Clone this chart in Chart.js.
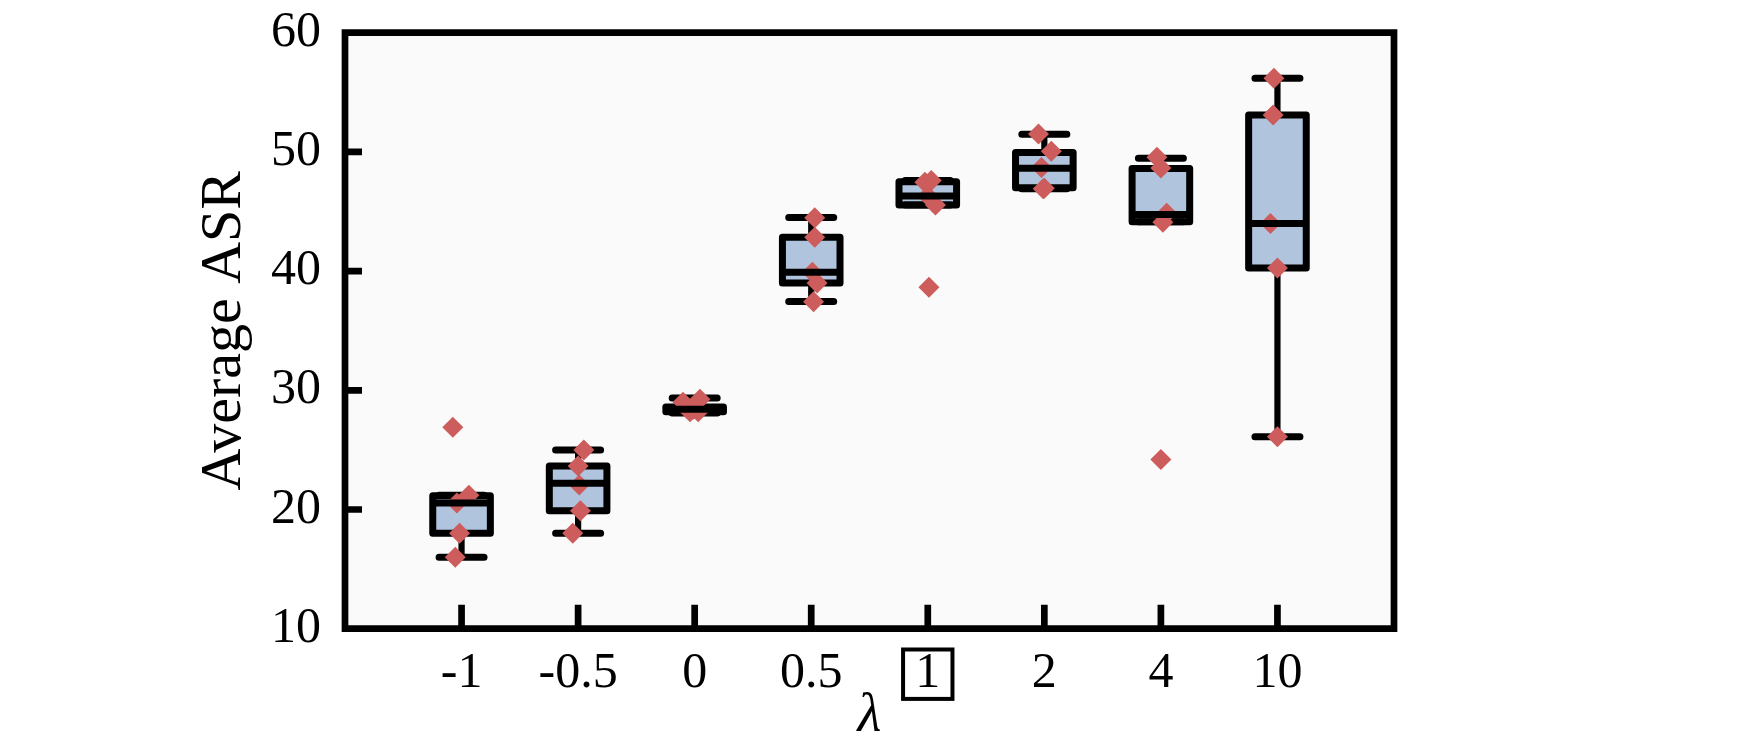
<!DOCTYPE html>
<html>
<head>
<meta charset="utf-8">
<script src="https://cdn.jsdelivr.net/npm/chart.js@4.4.1/dist/chart.umd.min.js"></script>
<style>
  html, body { margin: 0; padding: 0; background: #ffffff; }
  #wrap { width: 1740px; height: 741px; }
</style>
</head>
<body>
<div id="wrap"><canvas id="c" width="1740" height="741"></canvas></div>
<script>
// ---------------- data ----------------
const categories = ['-1', '-0.5', '0', '0.5', '1', '2', '4', '10'];
const boxedCategory = '1';
const yTicks = [10, 20, 30, 40, 50, 60];

const q1      = [18.0, 19.9, 28.2, 39.0, 45.55, 47.0, 44.15, 40.25];
const medians = [20.55, 22.2, 28.4, 39.9, 46.3, 48.62, 44.75, 44.0];
const q3      = [21.15, 23.65, 28.6, 42.83, 47.5, 49.95, 48.6, 53.1];
const whiskerLow  = [16.0, 18.0, 28.1, 37.45, 45.55, 46.9, 44.15, 26.1];
const whiskerHigh = [21.2, 25.0, 29.35, 44.5, 47.6, 51.48, 49.46, 56.17];

// individual runs (red diamonds) and their horizontal jitter in category units
const pointValues = [
  [26.9, 21.2, 20.55, 18.0, 16.0],
  [25.0, 23.65, 22.05, 19.9, 18.0],
  [29.25, 29.0, 28.4, 28.2, 28.2],
  [44.48, 42.83, 39.9, 39.0, 37.43],
  [47.6, 47.45, 46.3, 45.55, 38.64],
  [51.5, 50.05, 48.7, 46.95, 46.9],
  [49.55, 48.65, 44.85, 44.1, 24.2],
  [56.17, 53.1, 44.0, 40.25, 26.1]
];
const pointJitter = [
  [-0.075, 0.063, -0.04, -0.017, -0.054],
  [0.049, 0.0, 0.01, 0.02, -0.046],
  [0.045, -0.1, -0.01, -0.04, 0.03],
  [0.03, 0.03, 0.01, 0.05, 0.02],
  [0.03, -0.025, 0.0, 0.066, 0.01],
  [-0.05, 0.06, -0.025, 0.0, -0.01],
  [-0.034, 0.0, 0.05, 0.017, 0.0],
  [-0.03, -0.037, -0.06, 0.0, 0.0]
];

// ---------------- build datasets from the arrays ----------------
const boxData = categories.map((c, i) => ({ x: i, y: [q1[i], q3[i]] }));
const pointData = [];
pointValues.forEach((arr, i) => arr.forEach((v, k) => pointData.push({ x: i + pointJitter[i][k], y: v })));

// ---------------- styling constants ----------------
const SERIF = 'Liberation Serif';
const LW = 7;              // box / cap / median line width
const FRAME_LW = 6.7;
const WHISKER_LW = 6.2;
const BOX_HALF = 28.8;     // half width of box (line centres)
const CAP_HALF = 26;       // half width of caps (outer)
const Y_TICK_LEN = 17;
const X_TICK_LEN = 24;

const boxPlugin = {
  id: 'boxParts',
  beforeDraw(chart) {
    const { ctx, chartArea: a } = chart;
    ctx.save();
    ctx.fillStyle = '#fafafa';
    ctx.fillRect(a.left, a.top, a.right - a.left, a.bottom - a.top);
    ctx.restore();
  },
  afterDatasetDraw(chart, args) {
    if (args.index !== 0) return;
    const { ctx } = chart;
    const xs = chart.scales.x, ys = chart.scales.y;
    ctx.save();
    ctx.strokeStyle = '#000';
    categories.forEach((c, i) => {
      const cx = xs.getPixelForValue(i);
      const yQ1 = ys.getPixelForValue(q1[i]);
      const yQ3 = ys.getPixelForValue(q3[i]);
      const yLo = ys.getPixelForValue(whiskerLow[i]);
      const yHi = ys.getPixelForValue(whiskerHigh[i]);
      // whiskers
      ctx.lineWidth = WHISKER_LW;
      ctx.lineCap = 'butt';
      ctx.beginPath();
      ctx.moveTo(cx, yQ3); ctx.lineTo(cx, yHi);
      ctx.moveTo(cx, yQ1); ctx.lineTo(cx, yLo);
      ctx.stroke();
      // caps
      ctx.lineWidth = LW;
      ctx.lineCap = 'round';
      ctx.beginPath();
      ctx.moveTo(cx - CAP_HALF + LW / 2, yHi); ctx.lineTo(cx + CAP_HALF - LW / 2, yHi);
      ctx.moveTo(cx - CAP_HALF + LW / 2, yLo); ctx.lineTo(cx + CAP_HALF - LW / 2, yLo);
      ctx.stroke();
      // box outline
      ctx.lineJoin = 'round';
      ctx.lineCap = 'butt';
      ctx.beginPath();
      ctx.rect(cx - BOX_HALF, yQ3, BOX_HALF * 2, yQ1 - yQ3);
      ctx.stroke();
    });
    ctx.restore();
  },
  afterDatasetsDraw(chart) {
    const { ctx, chartArea: a } = chart;
    const xs = chart.scales.x, ys = chart.scales.y;
    ctx.save();
    ctx.strokeStyle = '#000';
    // medians
    ctx.lineWidth = LW;
    ctx.lineCap = 'butt';
    categories.forEach((c, i) => {
      const cx = xs.getPixelForValue(i);
      const ym = ys.getPixelForValue(medians[i]);
      ctx.beginPath();
      ctx.moveTo(cx - BOX_HALF, ym); ctx.lineTo(cx + BOX_HALF, ym);
      ctx.stroke();
    });
    // inward tick marks
    ctx.lineWidth = FRAME_LW;
    ctx.beginPath();
    yTicks.forEach(v => {
      if (v <= ys.min || v >= ys.max) return;
      const y = ys.getPixelForValue(v);
      ctx.moveTo(a.left, y); ctx.lineTo(a.left + Y_TICK_LEN, y);
    });
    categories.forEach((c, i) => {
      const x = xs.getPixelForValue(i);
      ctx.moveTo(x, a.bottom); ctx.lineTo(x, a.bottom - X_TICK_LEN);
    });
    ctx.stroke();
    // frame
    ctx.lineJoin = 'miter';
    ctx.beginPath();
    ctx.rect(a.left, a.top, a.right - a.left, a.bottom - a.top);
    ctx.stroke();
    ctx.restore();
  },
  afterDraw(chart) {
    const { ctx } = chart;
    const xs = chart.scales.x;
    const idx = categories.indexOf(boxedCategory);
    if (idx < 0) return;
    const font = Chart.helpers.toFont(xs.options.ticks.font);
    const cx = xs.getPixelForValue(idx);
    const cy = xs.top + xs.options.ticks.padding + font.lineHeight / 2;
    ctx.save();
    ctx.strokeStyle = '#000';
    ctx.lineWidth = 4;
    ctx.strokeRect(cx - 24.7, cy - 24.7, 49.4, 49.4);
    ctx.restore();
  }
};

function pinScale(size, isX) {
  return s => {
    if (isX) s.height = size; else s.width = size;
    s.paddingTop = 0; s.paddingBottom = 0; s.paddingLeft = 0; s.paddingRight = 0;
  };
}

new Chart(document.getElementById('c'), {
  type: 'bar',
  data: {
    datasets: [
      {
        type: 'bar',
        data: boxData,
        backgroundColor: '#b0c4de',
        borderWidth: 0,
        barThickness: BOX_HALF * 2,
        inflateAmount: 0,
        order: 2
      },
      {
        type: 'scatter',
        data: pointData,
        pointStyle: 'rectRot',
        pointRadius: 10.5,
        pointHoverRadius: 10.5,
        backgroundColor: '#cd5c5c',
        borderColor: '#cd5c5c',
        borderWidth: 0,
        order: 1
      }
    ]
  },
  options: {
    responsive: false,
    animation: false,
    events: [],
    layout: { padding: { left: 0, top: 32.7, right: 346, bottom: 0 } },
    plugins: { legend: { display: false }, tooltip: { enabled: false } },
    scales: {
      x: {
        type: 'linear',
        min: -1,
        max: 8,
        offset: false,
        grid: { display: false, drawTicks: false },
        border: { display: false },
        afterBuildTicks: s => { s.ticks = categories.map((c, i) => ({ value: i })); },
        ticks: {
          autoSkip: false,
          maxRotation: 0,
          padding: 15.5,
          color: '#000',
          font: { family: SERIF, size: 50 },
          callback: v => (categories[v] !== undefined ? categories[v] : '')
        },
        title: {
          display: true,
          text: 'λ',
          color: '#000',
          font: { family: SERIF, style: 'italic', size: 55, lineHeight: 0.9 },
          padding: 0
        },
        afterFit: pinScale(112.3, true)
      },
      y: {
        type: 'linear',
        min: 10,
        max: 60,
        grid: { display: false, drawTicks: false },
        border: { display: false },
        afterBuildTicks: s => { s.ticks = yTicks.map(v => ({ value: v })); },
        ticks: {
          padding: 24,
          color: '#000',
          font: { family: SERIF, size: 50 }
        },
        title: {
          display: true,
          text: 'Average ASR',
          color: '#000',
          font: { family: SERIF, size: 58 },
          padding: { top: 190, bottom: 0 }
        },
        afterFit: pinScale(345, false)
      }
    }
  },
  plugins: [boxPlugin]
});
</script>
</body>
</html>
